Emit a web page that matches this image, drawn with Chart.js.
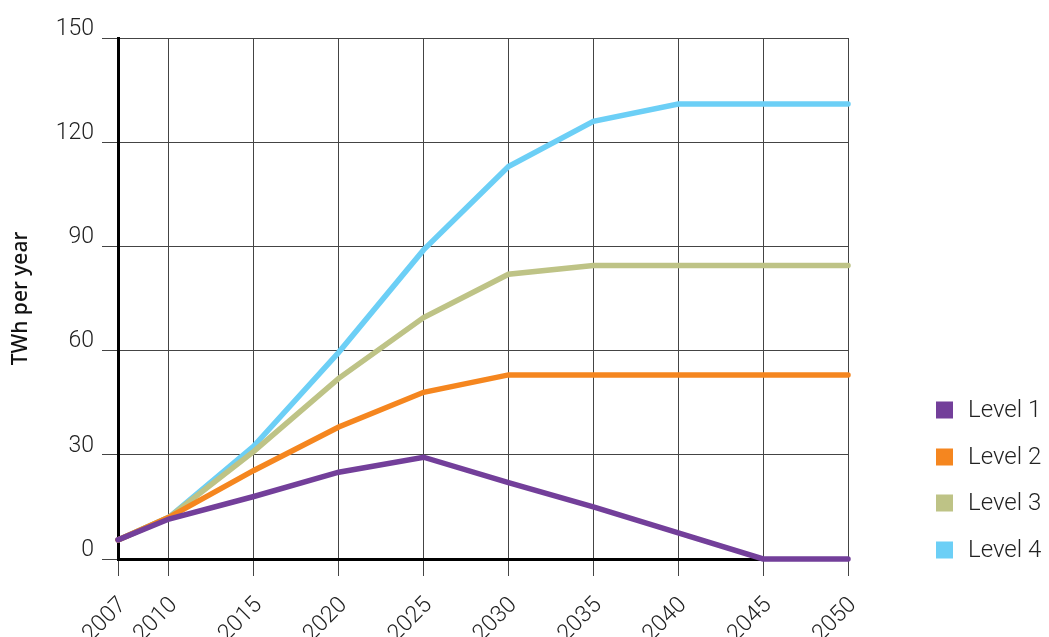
<!DOCTYPE html>
<html>
<head>
<meta charset="utf-8">
<script src="https://cdn.jsdelivr.net/npm/chart.js@4.4.1/dist/chart.umd.min.js"></script>
<style>
html,body{margin:0;padding:0;background:#fff;}
#wrap{width:1049px;height:637px;position:relative;}
</style>
</head>
<body>
<div id="wrap"><canvas id="c" width="1049" height="637"></canvas></div>
<script>
const years = [2007, 2010, 2015, 2020, 2025, 2030, 2035, 2040, 2045, 2050];
const yTicks = [0, 30, 60, 90, 120, 150];
const seriesNames = ['Level 1', 'Level 2', 'Level 3', 'Level 4'];
const level1 = [5.5, 11.5, 18, 25, 29.3, 22, 15, 7.5, 0, 0];
const level2 = [5.5, 12, 25.5, 38, 48, 53, 53, 53, 53, 53];
const level3 = [5.5, 12, 31, 52, 69.5, 82, 84.5, 84.5, 84.5, 84.5];
const level4 = [5.5, 12, 32.5, 59.5, 89, 113, 126, 131, 131, 131];
const colors = ['#733F9A', '#F5861F', '#BEC386', '#6CCFF6'];

const FONT = "Roboto, sans-serif";

const allSeries = [level1, level2, level3, level4];
const datasets = allSeries.map((vals, i) => ({
  label: seriesNames[i],
  data: vals.map((v, j) => ({x: years[j], y: v})),
  borderColor: colors[i],
  backgroundColor: colors[i],
  borderWidth: 5.5,
  pointRadius: 0,
  tension: 0,
  borderCapStyle: 'round',
  borderJoinStyle: 'miter',
  clip: false
}));

const legendPlugin = {
  id: 'sideLegend',
  afterDraw(chart) {
    const ctx = chart.ctx;
    const centers = [410, 457, 503, 550];
    ctx.save();
    ctx.font = '300 24px ' + FONT;
    ctx.textBaseline = 'middle';
    ctx.textAlign = 'left';
    chart.data.datasets.forEach((ds, i) => {
      const cy = centers[i];
      ctx.fillStyle = ds.borderColor;
      ctx.fillRect(936, cy - 8.5, 17, 17);
      ctx.fillStyle = '#222';
      ctx.fillText(ds.label, 968, cy + 1);
    });
    ctx.restore();
  }
};

Chart.defaults.font.family = FONT;
new Chart(document.getElementById('c'), {
  type: 'line',
  data: { datasets },
  plugins: [legendPlugin],
  options: {
    responsive: false,
    animation: false,
    layout: { padding: { top: 38, right: 201, left: 0, bottom: 0 } },
    plugins: { legend: { display: false }, tooltip: { enabled: false } },
    scales: {
      x: {
        type: 'linear',
        min: years[0],
        max: years[years.length - 1],
        afterBuildTicks: (s) => { s.ticks = years.map(v => ({ value: v })); },
        afterFit: (s) => { s.height = 78; },
        ticks: {
          autoSkip: false,
          maxRotation: 45,
          minRotation: 45,
          padding: 16,
          labelOffset: 5,
          color: '#222',
          font: { size: 23, weight: 300 },
          callback: (v) => String(v)
        },
        grid: { color: '#444', lineWidth: 1, tickLength: 17, drawTicks: true },
        border: { color: '#000', width: 3 }
      },
      y: {
        min: 0,
        max: 150,
        afterBuildTicks: (s) => { s.ticks = yTicks.map(v => ({ value: v })); },
        afterFit: (s) => { s.width = 118; },
        ticks: {
          padding: 8,
          labelOffset: -9,
          color: '#222',
          font: { size: 23, weight: 300 },
          callback: (v) => String(v)
        },
        grid: { color: '#444', lineWidth: 1, tickLength: 16, drawTicks: true },
        border: { color: '#000', width: 3 },
        title: {
          display: true,
          text: 'TWh per year',
          color: '#111',
          font: { family: "'Noto Sans', sans-serif", size: 21, weight: 500 },
          padding: { top: 8, bottom: 0 }
        }
      }
    }
  }
});
</script>
</body>
</html>
